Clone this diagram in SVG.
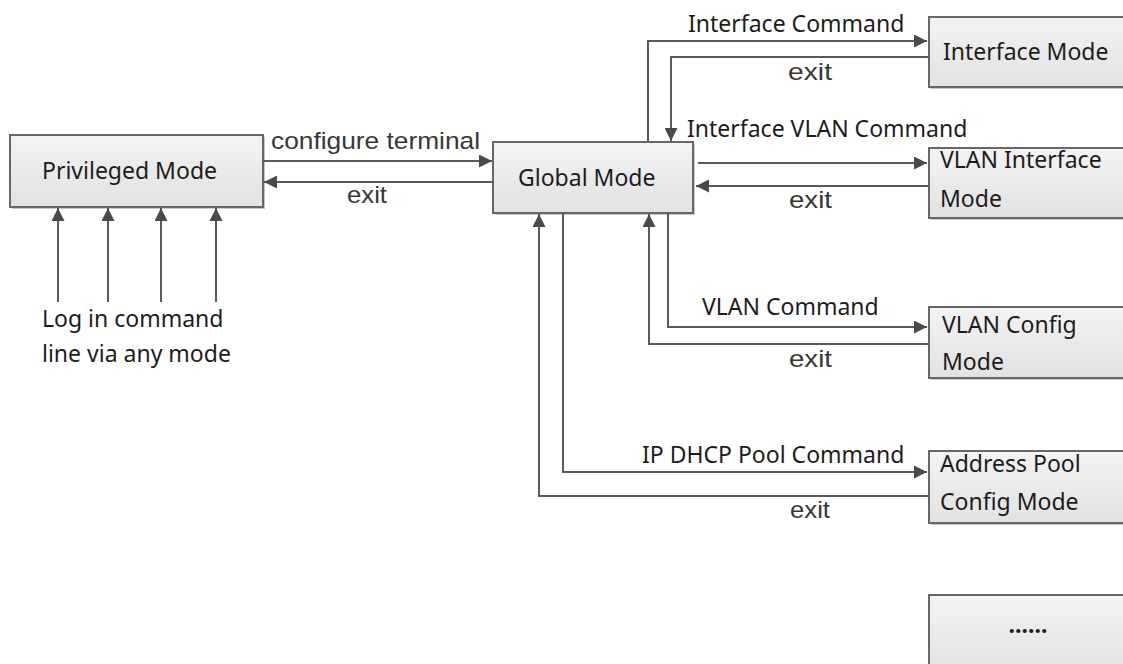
<svg xmlns="http://www.w3.org/2000/svg" width="1123" height="664" viewBox="0 0 1123 664">
<style>
.box{fill:url(#g);stroke:#676767;stroke-width:2}
.sh{fill:#c8c8c8}
.t{font-family:"Noto Sans","Open Sans","Liberation Sans",sans-serif;font-size:23px;fill:#1c1c1c}
.a{font-family:"Liberation Sans",Arial,sans-serif;font-size:24px;fill:#383838}
.c{fill:none;stroke:#5a5a5a;stroke-width:2}
</style>
<defs>
<linearGradient id="g" x1="0" y1="0" x2="0" y2="1">
<stop offset="0" stop-color="#f3f3f3"/>
<stop offset="1" stop-color="#e2e2e2"/>
</linearGradient>
<marker id="ar" viewBox="0 0 10 10" refX="10" refY="5" markerWidth="15" markerHeight="13" markerUnits="userSpaceOnUse" orient="auto">
<path d="M0,0 L10,5 L0,10 z" fill="#4a4a4a"/>
</marker>
</defs>
<rect width="1123" height="664" fill="#ffffff"/>

<g id="privileged">
<rect class="sh" x="12" y="137" width="253" height="72"/>
<rect class="box" x="10" y="135" width="253" height="72"/>
<text class="t" x="42" y="179">Privileged Mode</text>
</g>
<g id="global">
<rect class="sh" x="495" y="144" width="200" height="71"/>
<rect class="box" x="493" y="142" width="200" height="71"/>
<text class="t" x="518" y="186">Global Mode</text>
</g>
<g id="interface">
<rect class="sh" x="931" y="19" width="210" height="70"/>
<rect class="box" x="929" y="17" width="210" height="70"/>
<text class="t" x="943" y="60">Interface Mode</text>
</g>
<g id="vlaninterface">
<rect class="sh" x="931" y="150" width="210" height="70"/>
<rect class="box" x="929" y="148" width="210" height="70"/>
<text class="t" x="940" y="168">VLAN Interface</text>
<text class="t" x="940" y="207">Mode</text>
</g>
<g id="vlanconfig">
<rect class="sh" x="931" y="309" width="210" height="71"/>
<rect class="box" x="929" y="307" width="210" height="71"/>
<text class="t" x="942" y="333">VLAN Config</text>
<text class="t" x="942" y="370">Mode</text>
</g>
<g id="addresspool">
<rect class="sh" x="931" y="453" width="210" height="72"/>
<rect class="box" x="929" y="451" width="210" height="72"/>
<text class="t" x="940" y="472">Address Pool</text>
<text class="t" x="940" y="510">Config Mode</text>
</g>
<g id="more">
<rect class="sh" x="931" y="597" width="210" height="80"/>
<rect class="box" x="929" y="595" width="210" height="80"/>
<text class="t" x="1028" y="633" text-anchor="middle" font-weight="bold">......</text>
</g>

<g id="connectors">
<path class="c" d="M263,161 H492" marker-end="url(#ar)"/>
<path class="c" d="M493,182 H264" marker-end="url(#ar)"/>
<path class="c" d="M58,302 V208"  marker-end="url(#ar)"/>
<path class="c" d="M108,302 V208" marker-end="url(#ar)"/>
<path class="c" d="M161,302 V208" marker-end="url(#ar)"/>
<path class="c" d="M216,302 V208" marker-end="url(#ar)"/>
<path class="c" d="M648,142 V41 H927" marker-end="url(#ar)"/>
<path class="c" d="M929,57 H671 V141" marker-end="url(#ar)"/>
<path class="c" d="M698,163 H927" marker-end="url(#ar)"/>
<path class="c" d="M929,186 H696" marker-end="url(#ar)"/>
<path class="c" d="M668,213 V327 H927" marker-end="url(#ar)"/>
<path class="c" d="M929,344 H649 V214" marker-end="url(#ar)"/>
<path class="c" d="M563,213 V472 H927" marker-end="url(#ar)"/>
<path class="c" d="M929,496 H539 V214" marker-end="url(#ar)"/>
</g>

<g id="labels">
<text class="a" x="271" y="149" textLength="209" lengthAdjust="spacingAndGlyphs">configure terminal</text>
<text class="a" x="347" y="203" textLength="40" lengthAdjust="spacingAndGlyphs">exit</text>
<text class="t" x="688" y="32">Interface Command</text>
<text class="a" x="788" y="80" textLength="44" lengthAdjust="spacingAndGlyphs">exit</text>
<text class="t" x="687" y="137">Interface VLAN Command</text>
<text class="a" x="789" y="208" textLength="43" lengthAdjust="spacingAndGlyphs">exit</text>
<text class="t" x="702" y="315">VLAN Command</text>
<text class="a" x="789" y="367" textLength="43" lengthAdjust="spacingAndGlyphs">exit</text>
<text class="t" x="642" y="463">IP DHCP Pool Command</text>
<text class="a" x="790" y="518" textLength="40" lengthAdjust="spacingAndGlyphs">exit</text>
<text class="t" x="42" y="327">Log in command</text>
<text class="t" x="42" y="362">line via any mode</text>
</g>
</svg>
